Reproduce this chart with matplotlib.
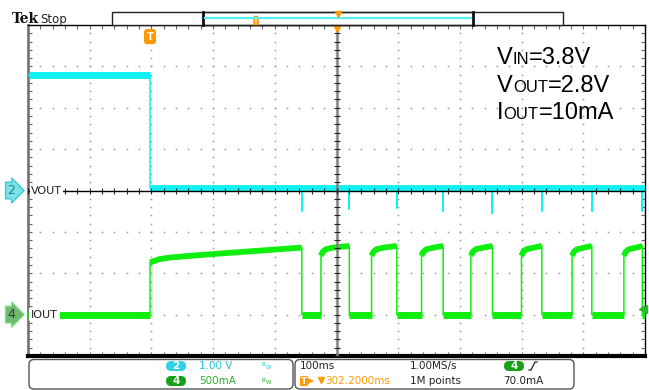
import matplotlib
matplotlib.use("Agg")
import matplotlib.pyplot as plt
from matplotlib.ticker import MultipleLocator
from matplotlib.transforms import blended_transform_factory
from matplotlib.patches import Rectangle, FancyBboxPatch
from matplotlib.offsetbox import TextArea, HPacker, VPacker, AnnotationBbox

# horizontal: 100 ms/div, 10 div, trigger at t=0, position 302.2 ms at centre
ms_per_div = 100
t_center = 302.2
t_left = t_center - 5 * ms_per_div
t_right = t_center + 5 * ms_per_div

# CH2  VOUT  1.00 V/div, ground 4 div up
vout_before = 2.8
vout_after = 0.05
vout_dip_ms = [246, 323, 400, 475, 555, 635, 716, 798]
vout_dip_v = [-0.5, -0.45, -0.43, -0.5, -0.55, -0.5, -0.5, -0.5]

# CH4  IOUT  500 mA/div, ground 1 div up
ramp_ms = [0, 15, 32, 81, 162, 246]
ramp_a = [0.63, 0.67, 0.69, 0.72, 0.765, 0.81]
iout_rise_ms = [277, 359, 440, 520, 602, 684, 768]
iout_fall_ms = [246, 323, 400, 475, 555, 635, 716, 798]
pulse_ms = [0, 3, 8, 20]          # offsets after each rising edge
pulse_a = [0.71, 0.76, 0.79, 0.81]
pulse_end_a = 0.83
trig_level_a = 0.07

CYAN = "#10f2f2"
GREEN = "#10ee10"
ORANGE = "#ff9a00"
FONT = "DejaVu Sans"

W, H = 649, 390
L, T, R, B = 28, 25, 645, 356

fig = plt.figure(figsize=(W / 100, H / 100), dpi=100)
ax = fig.add_axes([L / W, 1 - B / H, (R - L) / W, (B - T) / H])
ax.set_xlim(t_left, t_right)
ax.set_ylim(-4, 4)
ax2 = ax.twinx()
ax2.set_ylim(-0.5, 3.5)
ax2.set_axis_off()

# frame and edge ticks
ax.xaxis.set_major_locator(MultipleLocator(100, offset=2.2))
ax.xaxis.set_minor_locator(MultipleLocator(20, offset=2.2))
ax.yaxis.set_major_locator(MultipleLocator(1))
ax.yaxis.set_minor_locator(MultipleLocator(0.2))
ax.tick_params(which="both", direction="in", length=3, width=0.8, color="#666",
               top=True, right=True, labelbottom=False, labelleft=False)
ax.spines["left"].set(color="#777", lw=2)
ax.spines["bottom"].set(color="black", lw=3)
ax.spines["top"].set(color="black", lw=1)
ax.spines["right"].set(color="black", lw=1)

# dotted graticule
gx, gy = [], []
for k in range(1, 10):
    if k == 5:
        continue
    for j in range(41):
        gx.append(t_left + k * ms_per_div)
        gy.append(-4 + 0.2 * j)
for k in range(1, 8):
    if k == 4:
        continue
    for j in range(51):
        gx.append(t_left + 20 * j)
        gy.append(-4 + k)
ax.plot(gx, gy, ls="none", marker="s", ms=1.1, color="#9a9a9a", mec="none", zorder=1)

# centre crosshair with ticks
ax2.axvline(t_center, color="#808080", lw=1.8, zorder=6)
ax2.plot([0, 1], [0.5, 0.5], transform=ax2.transAxes, color="black", lw=1, zorder=6)
ax2.plot([t_left + 20 * j for j in range(51)], [1.5] * 51, ls="none",
         marker="|", ms=4, color="#222", mew=0.8, zorder=6)
ax2.plot([t_center] * 41, [-0.5 + 0.1 * j for j in range(41)], ls="none",
         marker="_", ms=5, color="#222", mew=0.8, zorder=6)

# CH2 trace
vt = [t_left, 0, 0]
vv = [vout_before, vout_before, vout_after]
for d, dv in zip(vout_dip_ms, vout_dip_v):
    vt += [d, d, d]
    vv += [vout_after, dv, vout_after]
vt.append(t_right)
vv.append(vout_after)
ax.plot(vt, vv, color=CYAN, lw=1.1, zorder=3)
ax.plot([t_left + 2, 0], [vout_before] * 2, color=CYAN, lw=5, solid_capstyle="butt", zorder=3)
ax.plot([0, t_right], [vout_after] * 2, color=CYAN, lw=4.2, solid_capstyle="butt", zorder=3)

# CH4 trace
highs = [(ramp_ms, ramp_a)]
for r, f in zip(iout_rise_ms, iout_fall_ms[1:]):
    highs.append(([r + o for o in pulse_ms] + [f], pulse_a + [pulse_end_a]))
lows = [(t_left, 0)] + list(zip(iout_fall_ms, iout_rise_ms + [t_right]))

it, ia = [], []
for i, (lo0, lo1) in enumerate(lows):
    it += [lo0, lo1]
    ia += [0, 0]
    if i < len(highs):
        it += highs[i][0]
        ia += highs[i][1]
ax2.plot(it, ia, color=GREEN, lw=1.1, zorder=3)
for lo0, lo1 in lows:
    ax2.plot([lo0, lo1], [0, 0], color=GREEN, lw=5, solid_capstyle="butt", zorder=3)
for ht, ha in highs:
    ax2.plot(ht, ha, color=GREEN, lw=4.2, solid_capstyle="butt", zorder=3)

# trigger level marker
ax2.plot([t_right - 4], [trig_level_a], marker="<", ms=6, color="#22bb22",
         clip_on=False, zorder=7)

# channel markers and labels
tr1 = blended_transform_factory(ax.transAxes, ax.transData)
tr2 = blended_transform_factory(ax2.transAxes, ax2.transData)
ax.text(-0.027, 0, "2", transform=tr1, ha="center", va="center", fontsize=9,
        color="#2a7f88", family=FONT, clip_on=False,
        bbox=dict(boxstyle="rarrow,pad=0.15", fc="#78e2ea", ec="#44c8d2", lw=1))
ax2.text(-0.027, 0, "4", transform=tr2, ha="center", va="center", fontsize=9,
         color="#3a3a3a", family=FONT, clip_on=False, zorder=8,
         bbox=dict(boxstyle="rarrow,pad=0.15", fc="#6fb86f", ec="#7fe07f", lw=1))
ax2.text(0.005, 1.5, "VOUT", transform=tr2, ha="left", va="center", fontsize=8,
         color="#222", family=FONT, zorder=8,
         bbox=dict(fc="white", ec="none", pad=0.6))
ax2.text(0.005, 0, "IOUT", transform=tr2, ha="left", va="center", fontsize=8,
         color="#222", family=FONT, zorder=8,
         bbox=dict(fc="white", ec="none", pad=1.2))

# trigger point and horizontal position markers
trx = blended_transform_factory(ax.transData, ax.transAxes)
ax2.text(0, 0.965, "T", transform=trx, ha="center", va="center", fontsize=7,
         color="white", weight="bold", family=FONT, zorder=8,
         bbox=dict(boxstyle="round,pad=0.2,rounding_size=0.25", fc=ORANGE, ec=ORANGE))
ax2.plot([t_center], [0.995], transform=trx, marker="v", ms=7, color=ORANGE,
         clip_on=False, zorder=8)

# overlay in pixel coordinates
ov = fig.add_axes([0, 0, 1, 1], zorder=10)
ov.set_xlim(0, W)
ov.set_ylim(H, 0)
ov.set_axis_off()

ov.text(12, 23, "Tek", family="DejaVu Serif", weight="bold", fontsize=10,
        color="#111", va="baseline")
ov.text(40, 23, "Stop", family=FONT, fontsize=8.5, color="#222", va="baseline")

ov.add_patch(Rectangle((112, 12), 451, 13, fc="white", ec="#222", lw=1))
ov.add_patch(Rectangle((203, 12), 270, 13, fc="none", ec="#222", lw=1))
ov.plot([203, 203], [12, 25], color="#111", lw=2)
ov.plot([473, 473], [12, 25], color="#111", lw=2)
ov.plot([205, 471], [18, 18], color="#55eef5", lw=1.6)
ov.add_patch(FancyBboxPatch((254, 16.5), 4, 8, boxstyle="round,pad=0,rounding_size=1.5",
                            fc="#ffd27a", ec=ORANGE, lw=1.2))
ov.plot([338], [13.5], marker="v", ms=4, color=ORANGE)

# operating point annotation
def spec_line(main, sub, rest):
    tp = dict(family="Liberation Sans", size=17, color="black")
    ts = dict(family="Liberation Sans", size=12, color="black")
    return HPacker(children=[TextArea(main, textprops=tp), TextArea(sub, textprops=ts),
                             TextArea(rest, textprops=tp)],
                   align="baseline", pad=0, sep=0)

block = VPacker(children=[spec_line("V", "IN", "=3.8V"),
                          spec_line("V", "OUT", "=2.8V"),
                          spec_line("I", "OUT", "=10mA")],
                align="left", pad=0, sep=4)
ov.add_artist(AnnotationBbox(block, (497, H - 47), xycoords="figure pixels",
                             box_alignment=(0, 1), frameon=False, pad=0))

# status bar
ov.add_patch(FancyBboxPatch((29, 359.5), 264, 29.5, boxstyle="round,pad=0,rounding_size=5",
                            fc="white", ec="#555", lw=1))
ov.add_patch(FancyBboxPatch((295, 359.5), 279, 29.5, boxstyle="round,pad=0,rounding_size=5",
                            fc="white", ec="#555", lw=1))


def pill(x, y, label, color):
    ov.add_patch(FancyBboxPatch((x - 10, y - 5), 20, 10, boxstyle="round,pad=0,rounding_size=5",
                                fc=color, ec="none"))
    ov.text(x, y, label, ha="center", va="center", fontsize=7.5, color="white",
            family=FONT, weight="bold")


pill(176, 366, "2", "#2fd2e4")
pill(176, 381, "4", "#19a019")
pill(514, 366, "4", "#19a019")
ov.text(199, 366, "1.00 V", va="center", fontsize=7.5, color="#22c8d8", family=FONT)
ov.text(199, 381, "500mA", va="center", fontsize=7.5, color="#2bb02b", family=FONT)
for y, c in [(366, "#22c8d8"), (381, "#2bb02b")]:
    ov.text(262, y - 1, "B", fontsize=4, color=c, family=FONT, va="center")
    ov.text(265.5, y + 1.5, "W", fontsize=4, color=c, family=FONT, va="center")

ov.text(300, 366, "100ms", va="center", fontsize=7.5, color="#222", family=FONT)
ov.text(410, 366, "1.00MS/s", va="center", fontsize=7.5, color="#222", family=FONT)
ov.text(410, 381, "1M points", va="center", fontsize=7.5, color="#222", family=FONT)
ov.text(503, 381, "70.0mA", va="center", fontsize=7.5, color="#222", family=FONT)
ov.plot([529, 531, 535, 537], [370, 370, 362, 362], color="#222", lw=0.9)

ov.add_patch(FancyBboxPatch((300, 376), 8, 10, boxstyle="round,pad=0,rounding_size=1.5",
                            fc=ORANGE, ec="none"))
ov.text(304, 381, "T", ha="center", va="center", fontsize=6.5, color="white",
        weight="bold", family=FONT)
ov.annotate("", xy=(316, 381), xytext=(309, 381),
            arrowprops=dict(arrowstyle="-|>,head_length=0.25,head_width=0.15",
                            color=ORANGE, lw=1))
ov.plot([321], [380], marker="v", ms=5, color=ORANGE)
ov.text(325, 381, "302.2000ms", va="center", fontsize=7.5, color=ORANGE, family=FONT)

fig.savefig("out.png", dpi=100)
